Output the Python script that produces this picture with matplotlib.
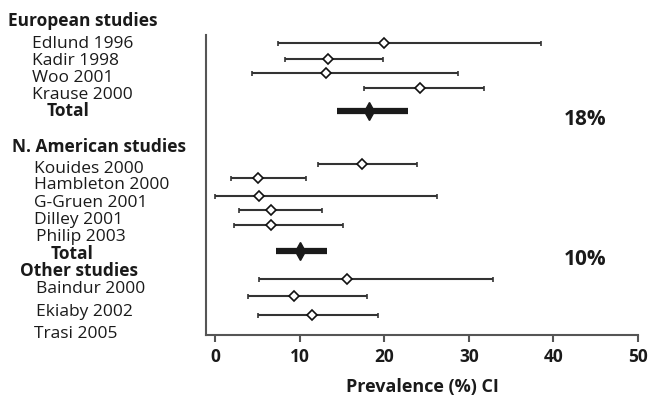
import matplotlib
matplotlib.use("Agg")
import matplotlib.pyplot as plt

# Study estimates (prevalence %, with confidence interval bounds)
studies = ["Edlund 1996", "Kadir 1998", "Woo 2001", "Krause 2000",
           "Kouides 2000", "Hambleton 2000", "G-Gruen 2001", "Dilley 2001", "Philip 2003",
           "Baindur 2000", "Ekiaby 2002", "Trasi 2005"]
point = [20.0, 13.3, 13.1, 24.2, 17.4, 5.0, 5.2, 6.6, 6.6, 15.6, 9.3, 11.4]
lower = [7.4, 8.3, 4.4, 17.6, 12.1, 1.8, 0.0, 2.8, 2.2, 5.2, 3.9, 5.1]
upper = [38.5, 19.8, 28.7, 31.8, 23.9, 10.7, 26.2, 12.6, 15.1, 32.8, 18.0, 19.3]

# Pooled totals
total_labels = ["Total", "Total"]
total_point = [18.2, 10.0]
total_lower = [14.4, 7.2]
total_upper = [22.8, 13.2]
total_text = ["18%", "10%"]

groups = ["European studies", "N. American studies", "Other studies"]
xticks = [0, 10, 20, 30, 40, 50]
xlabel = "Prevalence (%) CI"

# Vertical layout (row positions, top to bottom)
study_rows = [0.55, 1.58, 2.53, 3.55, 8.58, 9.53, 10.73, 11.69, 12.67, 16.27, 17.4, 18.67]
total_rows = [5.05, 14.38]

W, H = 649, 395
fig = plt.figure(figsize=(W / 100, H / 100), dpi=100)
font = "Open Sans"
ink = "#1a1a1a"

# axes box in pixels: left 206, right 638, top 35, bottom 335
ax = fig.add_axes([206 / W, 1 - 335 / H, (638 - 206) / W, (335 - 35) / H])
ax.set_xlim(-1.1, 50)
ax.set_ylim(20, 0)

line_col = "#333333"
for y, p, lo, hi in zip(study_rows, point, lower, upper):
    ax.errorbar(p, y, xerr=[[p - lo], [hi - p]], fmt="D", color=line_col,
                ecolor=line_col, elinewidth=1.5, capsize=1.8, capthick=1.5,
                markersize=5.5, markerfacecolor="white", markeredgecolor="#111111",
                markeredgewidth=1.2, zorder=3)

for y, p, lo, hi in zip(total_rows, total_point, total_lower, total_upper):
    ax.plot([lo, hi], [y, y], color=ink, linewidth=4.5, solid_capstyle="butt", zorder=3)
    ax.plot(p, y, marker="d", markersize=9, color=ink, zorder=4)

for y, t in zip(total_rows, total_text):
    ax.text(43.8, y + 0.6, t, fontsize=15, fontweight="bold", family=font,
            color=ink, va="center", ha="center")

for s in ["top", "right"]:
    ax.spines[s].set_visible(False)
for s in ["left", "bottom"]:
    ax.spines[s].set_color("#555555")
    ax.spines[s].set_linewidth(1.5)
ax.set_yticks([])
ax.set_xticks(xticks)
ax.tick_params(axis="x", direction="out", length=5, width=1.5, color="#555555",
               labelsize=12.5, pad=4)
for lab in ax.get_xticklabels():
    lab.set_fontweight("bold")
    lab.set_family(font)
    lab.set_color(ink)
ax.set_xlabel(xlabel, fontsize=13, fontweight="bold", family=font, color=ink)
ax.xaxis.set_label_coords((422 - 206) / (638 - 206), -(387 - 335) / 300)
ax.xaxis.label.set_va("center")

# Left-hand labels (pixel positions of the text baseline)
def label(x, y, s, bold=False, size=12.5):
    fig.text(x / W, 1 - y / H, s, fontsize=size, family=font,
             fontweight="bold" if bold else "normal", color=ink,
             va="baseline", ha="left")

label(8, 26, groups[0], bold=True, size=12.5)
eu_y = [48, 65, 82, 99]
for s, y in zip(studies[0:4], eu_y):
    label(31.5, y, s)
label(46.5, 116, total_labels[0], bold=True)

label(12, 152, groups[1], bold=True, size=12.5)
na_y = [173, 189, 207, 224, 241]
na_x = [34.5, 34.5, 34, 34, 36.5]
for s, x, y in zip(studies[4:9], na_x, na_y):
    label(x, y, s)
label(50.5, 259, total_labels[1], bold=True)

label(20, 276, groups[2], bold=True, size=12.5)
ot_y = [293, 316, 338]
ot_x = [36.5, 36, 34.3]
for s, x, y in zip(studies[9:], ot_x, ot_y):
    label(x, y, s)

fig.savefig("out.png", dpi=100)
